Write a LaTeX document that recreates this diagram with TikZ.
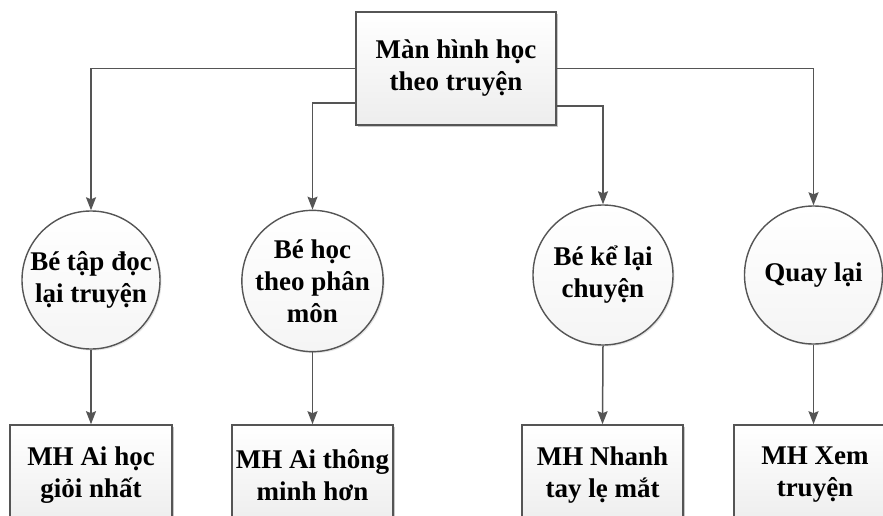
\documentclass[tikz,border=0pt]{standalone}
\usepackage{fontspec}
\setmainfont{Liberation Serif}
\usetikzlibrary{shadows,arrows.meta,calc}
\definecolor{edge}{HTML}{555555}
\tikzset{
  lbl/.style={font=\bfseries\fontsize{27}{32}\selectfont, align=center, text=black},
  screenbox/.style={lbl, draw=edge, line width=1.6pt, rectangle, inner sep=0pt,
    top color=white, bottom color=gray!14,
    drop shadow={shadow xshift=2.2pt, shadow yshift=-2.2pt, fill=gray!55, opacity=0.8}},
  actcircle/.style={lbl, draw=edge, line width=1.4pt, circle, inner sep=0pt,
    top color=white, bottom color=gray!8,
    drop shadow={shadow xshift=1.5pt, shadow yshift=-1.5pt, fill=gray!40, opacity=0.5}},
  link/.style={draw=edge, line width=1.5pt,
    -{Stealth[length=13pt, width=10pt, inset=2pt]}}
}
\begin{document}
\begin{tikzpicture}[x=1pt, y=-1pt]
  \useasboundingbox (0,0) rectangle (883,516);
  \clip (0,0) rectangle (883,516);

  % main screen
  \node[screenbox, minimum width=200pt, minimum height=113pt] (top) at (456,68.5)
    {Màn hình học\\theo truyện};

  % activities
  \node[actcircle, minimum size=138pt] (c1) at (91,280) {Bé tập đọc\\lại truyện};
  \node[actcircle, minimum size=136pt] (c2) at (312.5,281) {Bé học\\theo phân\\môn};
  \node[actcircle, minimum size=140pt] (c3) at (603,275) {Bé kể lại\\chuyện};
  \node[actcircle, minimum size=138pt] (c4) at (813.5,275) {Quay lại};

  % target screens
  \node[screenbox, minimum width=162pt, minimum height=100pt] (b1) at (91,475)
    {MH Ai học\\giỏi nhất};
  \node[screenbox, minimum width=161pt, minimum height=100pt] (b2) at (312.5,475)
    {MH Ai thông\\minh hơn};
  \node[screenbox, minimum width=161pt, minimum height=100pt] (b3) at (602.5,475)
    {MH Nhanh\\tay lẹ mắt};
  \node[screenbox, minimum width=162pt, minimum height=100pt] (b4) at (815,475)
    {MH Xem\\truyện};

  % connectors from the main screen
  \draw[link] (top.west) -| (c1.north);
  \draw[link] ($(top.west)+(0,34.5)$) -| (c2.north);
  \draw[link] ($(top.east)+(0,37.5)$) -| (c3.north);
  \draw[link] (top.east) -| (c4.north);

  % connectors to the target screens
  \draw[link] (c1.south) -- (b1.north);
  \draw[link] (c2.south) -- (b2.north);
  \draw[link] (c3.south) -- (b3.north);
  \draw[link] (c4.south) -- (c4.south |- b4.north);
\end{tikzpicture}
\end{document}
